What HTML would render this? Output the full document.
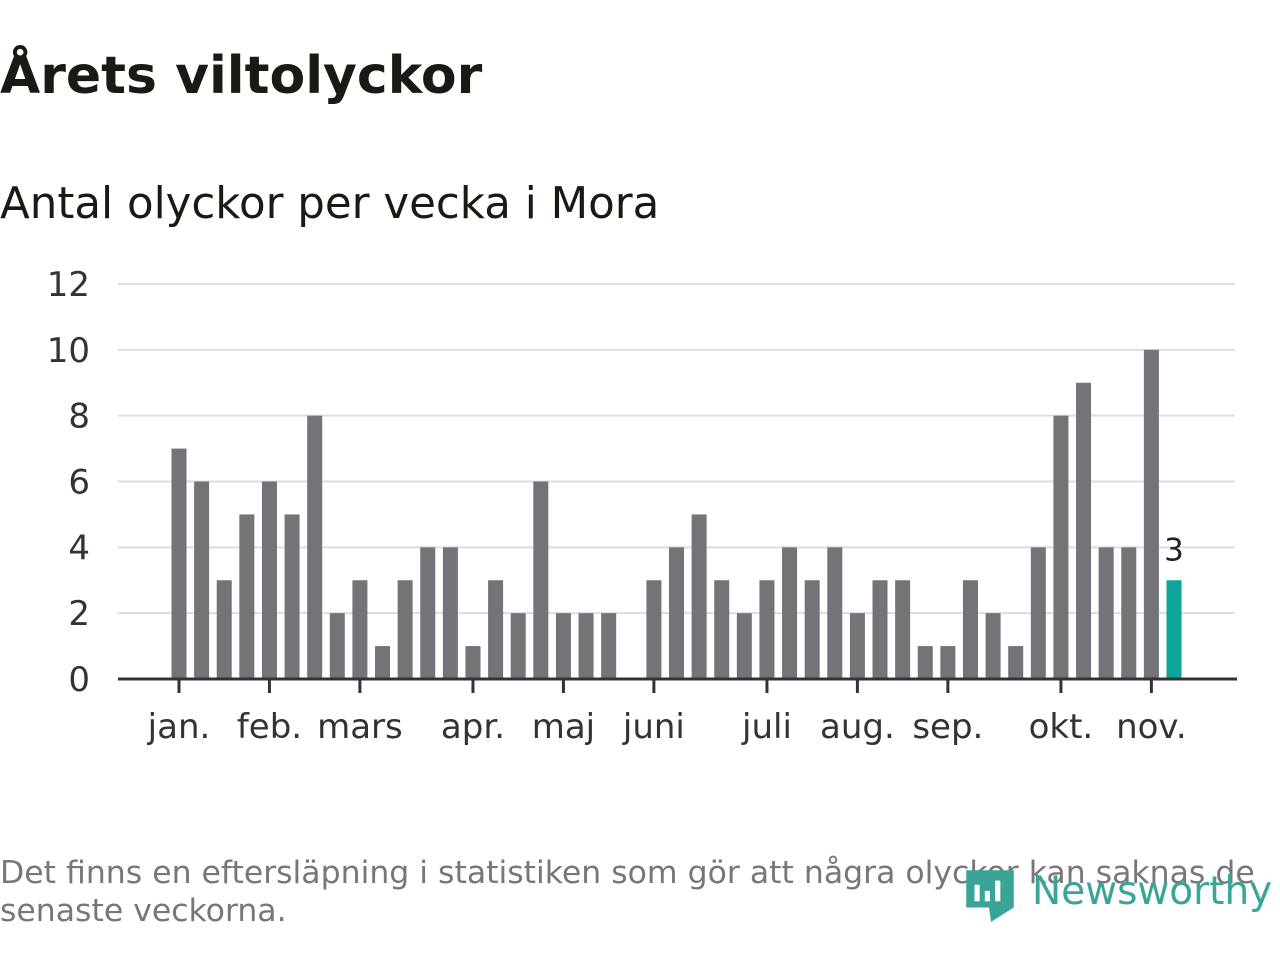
<!DOCTYPE html>
<html><head><meta charset="utf-8"><style>
body{margin:0;width:1280px;height:960px;background:#fff;font-family:"DejaVu Sans","Liberation Sans",sans-serif;overflow:hidden;position:relative}
h1{position:absolute;left:0;top:46px;margin:0;font-size:52px;font-weight:bold;color:#1a1a14}
.sub{position:absolute;left:0;top:179px;font-size:43.5px;color:#1a1a14}
.foot{position:absolute;left:0;top:854px;font-size:31.5px;color:#777;line-height:38px;width:1280px}
.logo{position:absolute;left:964px;top:862px;font-size:39px;color:#3aa597;white-space:nowrap}
</style></head><body>
<h1>Årets viltolyckor</h1>
<div class="sub">Antal olyckor per vecka i Mora</div>
<svg id="c" width="1280" height="960" style="position:absolute;left:0;top:0"></svg>
<div class="foot">Det finns en eftersläpning i statistiken som gör att några olyckor kan saknas de senaste veckorna.</div>
<div class="logo"><svg width="52" height="62" style="vertical-align:middle" viewBox="0 0 50 60"><path d="M2 8h46v36L26 58 24 44H2z" fill="#3aa597"/><rect x="10" y="22" width="5" height="16" fill="#fff"/><rect x="20" y="28" width="5" height="10" fill="#fff"/><rect x="30" y="18" width="5" height="20" fill="#fff"/></svg><span style="margin-left:16px">Newsworthy</span></div>
<script>
const values=[7,6,3,5,6,5,8,2,3,1,3,4,4,1,3,2,6,2,2,2,0,3,4,5,3,2,3,4,3,4,2,3,3,1,1,3,2,1,4,8,9,4,4,10,3];
const yTicks=[0,2,4,6,8,10,12];
const monthLabels=["jan.","feb.","mars","apr.","maj","juni","juli","aug.","sep.","okt.","nov."];
const monthIdx=[0,4,8,13,17,21,26,30,34,39,43];
const svg=document.getElementById('c');const NS='http://www.w3.org/2000/svg';
const x=i=>179+i*(995/44);const y=v=>679-v*(395/12);
function mk(t,a){const e=document.createElementNS(NS,t);for(const k in a)e.setAttribute(k,a[k]);svg.appendChild(e);return e;}
yTicks.forEach(v=>{
 if(v>0){const g=mk('line',{x1:118,x2:1235,y1:y(v),y2:y(v),stroke:'#ddd','stroke-width':2});
 
 }
 const t=mk('text',{x:90,y:y(v)+12,'text-anchor':'end','font-size':34,fill:'#333','font-family':'DejaVu Sans'});t.textContent=v;
 
 
});
values.forEach((v,i)=>{
 const last=i===values.length-1;
 const r=mk('rect',{x:x(i)-7.5,y:y(v),width:15,height:y(0)-y(v),fill:last?'#0ca597':'#747378'});
 
 
 if(last){const t=mk('text',{x:x(i),y:y(v)-20,'text-anchor':'middle','font-size':31,fill:'#222','font-family':'DejaVu Sans'});t.textContent=v;
 
 }
});
const ax=mk('line',{x1:118,x2:1237,y1:679,y2:679,stroke:'#333','stroke-width':3});


monthIdx.forEach((m,k)=>{
 const tk=mk('line',{x1:x(m),x2:x(m),y1:679,y2:693,stroke:'#333','stroke-width':3});
 
 
 const t=mk('text',{x:x(m),y:738,'text-anchor':'middle','font-size':34,fill:'#333','font-family':'DejaVu Sans'});t.textContent=monthLabels[k];
 
 
});
</script>
</body></html>
